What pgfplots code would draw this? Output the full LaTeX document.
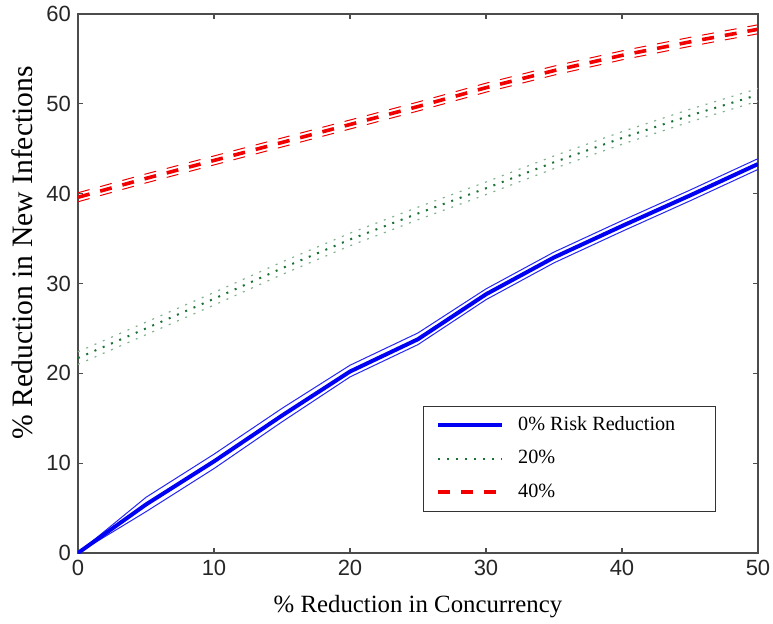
\documentclass[border=0pt]{standalone}
\usepackage{fontspec}
\setmainfont{Liberation Serif}
\newfontfamily\ticksans{Liberation Sans}
\usepackage{pgfplots}
\pgfplotsset{compat=1.18}

\definecolor{mblue}{rgb}{0,0,0.95}
\definecolor{mgreen}{rgb}{0.1,0.45,0.2}
\definecolor{mred}{rgb}{0.95,0,0}

% mean and band values
\pgfplotstableread{
x   m     lo    hi
0   0.0   0.0   0.0
5   5.4   4.6   6.2
10  10.2  9.4   11.0
15  15.3  14.6  16.1
20  20.2  19.6  20.9
25  23.8  23.2  24.5
30  28.8  28.2  29.4
35  32.9  32.3  33.5
40  36.4  35.8  37.0
45  39.8  39.2  40.4
50  43.3  42.7  43.9
}\blue
\pgfplotstableread{
x   m     lo    hi
0   21.7  21.0  22.4
5   25.0  24.3  25.7
10  28.3  27.6  29.0
15  31.7  31.0  32.4
20  34.9  34.2  35.6
25  37.8  37.1  38.5
30  40.6  39.9  41.3
35  43.5  42.8  44.2
40  46.2  45.5  46.9
45  48.7  48.0  49.4
50  51.0  50.3  51.7
}\green
\pgfplotstableread{
x   m     lo    hi
0   39.6  39.1  40.1
5   41.7  41.2  42.2
10  43.7  43.2  44.2
15  45.7  45.2  46.2
20  47.7  47.2  48.2
25  49.7  49.2  50.2
30  51.8  51.3  52.3
35  53.7  53.2  54.2
40  55.4  54.9  55.9
45  56.9  56.4  57.4
50  58.3  57.8  58.8
}\red

\begin{document}
\begin{tikzpicture}
\useasboundingbox (-39pt,-35pt) rectangle (347.5pt,276.5pt);
\begin{axis}[
  scale only axis, width=340pt, height=269.5pt,
  xmin=0, xmax=50, ymin=0, ymax=60,
  xtick={0,10,...,50}, ytick={0,10,...,60},
  tick align=inside, major tick length=2.5pt,
  axis line style={black!70, line width=0.6pt},
  tick style={black!70, line width=0.6pt},
  /pgf/number format/assume math mode=true,
  tick label style={font=\ticksans\fontsize{11}{12}\selectfont, text=black!85},
  xlabel={\% Reduction in Concurrency},
  ylabel={\% Reduction in New Infections},
  x label style={at={(axis description cs:0.5,0)}, anchor=base, yshift=-29.5pt,
    font=\fontsize{12.4}{14}\selectfont},
  y label style={at={(axis description cs:-0.0676,0.557)}, anchor=base,
    font=\fontsize{14.8}{16}\selectfont},
  legend style={at={(axis cs:46.9,16.4)}, anchor=north east,
    draw=black!80, line width=0.5pt, inner xsep=6.5pt, inner ysep=5pt,
    row sep=7.75pt, column sep=0pt,
    nodes={inner sep=0pt, text height=7pt, text depth=2pt},
    font=\fontsize{10.1}{12}\selectfont},
  legend cell align=left,
  legend image code/.code={\draw[#1] (0pt,0pt) -- (32pt,0pt);\path (39pt,0pt);},
]
% bands
\addplot[forget plot, mblue!85, line width=0.5pt] table[x=x,y=lo] {\blue};
\addplot[forget plot, mblue!85, line width=0.5pt] table[x=x,y=hi] {\blue};
\addplot[forget plot, mgreen!55, line width=0.6pt, dash pattern=on 1pt off 3.5pt] table[x=x,y=lo] {\green};
\addplot[forget plot, mgreen!55, line width=0.6pt, dash pattern=on 1pt off 3.5pt] table[x=x,y=hi] {\green};
\addplot[forget plot, mred, line width=0.5pt, dash pattern=on 6pt off 5.5pt] table[x=x,y=lo] {\red};
\addplot[forget plot, mred, line width=0.5pt, dash pattern=on 6pt off 5.5pt] table[x=x,y=hi] {\red};
% means
\addplot[mblue, line width=2pt] table[x=x,y=m] {\blue};
\addlegendentry{0\% Risk Reduction\hspace*{13.5pt}}
\addplot[mgreen, line width=1pt, dash pattern=on 1pt off 3.5pt] table[x=x,y=m] {\green};
\addlegendentry{20\%}
\addplot[mred, line width=1.8pt, dash pattern=on 6pt off 5.5pt] table[x=x,y=m] {\red};
\addlegendentry{40\%}
\end{axis}
\end{tikzpicture}
\end{document}
